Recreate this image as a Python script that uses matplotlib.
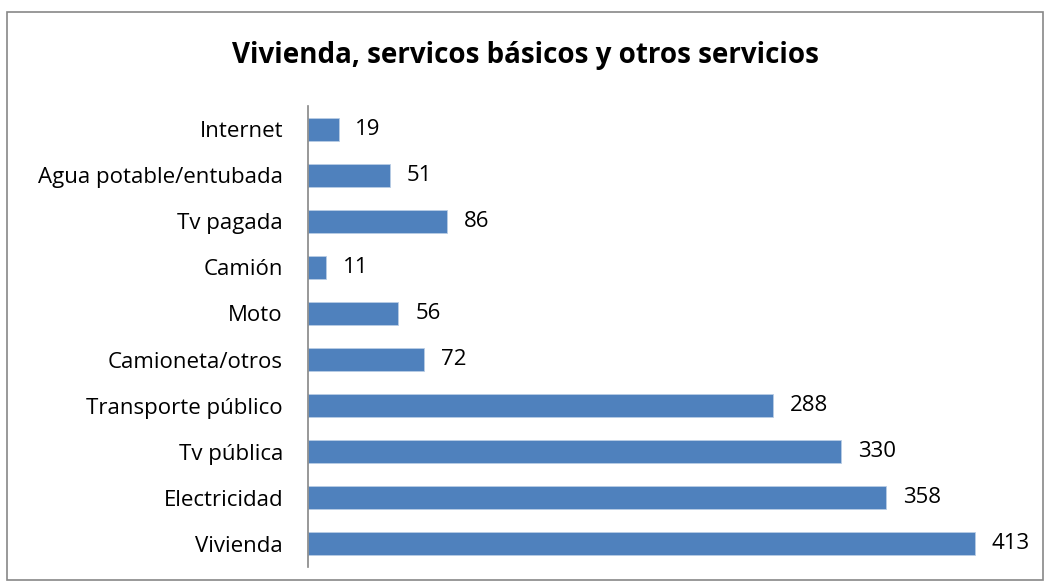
import matplotlib
matplotlib.use("Agg")
import matplotlib.pyplot as plt
from matplotlib.patches import Rectangle

categories = ["Internet", "Agua potable/entubada", "Tv pagada", "Camión", "Moto",
              "Camioneta/otros", "Transporte público", "Tv pública", "Electricidad", "Vivienda"]
values = [19, 51, 86, 11, 56, 72, 288, 330, 358, 413]

plt.rcParams['font.family'] = ['Open Sans', 'DejaVu Sans']

fig = plt.figure(figsize=(10.49, 5.88), dpi=100)
ax = fig.add_axes([308 / 1049, 1 - 567 / 588, (1035 - 308) / 1049, (567 - 106) / 588])

# outer chart border
fig.patches.append(Rectangle((7 / 1049, 1 - 580 / 588), (1043 - 7) / 1049, (580 - 12) / 588,
                             transform=fig.transFigure, fill=False, edgecolor="#878787", lw=1.2))

pos = list(range(len(categories)))
ax.barh(pos, values, height=0.5, color="#4F81BD", edgecolor="#B9CDE5", linewidth=0.6)
ax.set_ylim(len(categories) - 0.5, -0.5)
ax.set_xlim(0, 450)
ax.set_yticks(pos)
ax.set_yticklabels(categories, fontsize=16)
ax.tick_params(axis="y", length=0, pad=18)
ax.set_xticks([])

for p, v in zip(pos, values):
    ax.annotate(str(v), (v, p), xytext=(12, 0), textcoords="offset points",
                va="center", ha="left", fontsize=16)

for s in ["top", "right", "bottom"]:
    ax.spines[s].set_visible(False)
ax.spines["left"].set_color("#868686")
ax.spines["left"].set_linewidth(1.2)

fig.text(525 / 1049, 1 - 55 / 588, "Vivienda, servicos básicos y otros servicios",
         ha="center", va="center", fontsize=20, fontweight="bold")

fig.savefig("out.png", dpi=100)
